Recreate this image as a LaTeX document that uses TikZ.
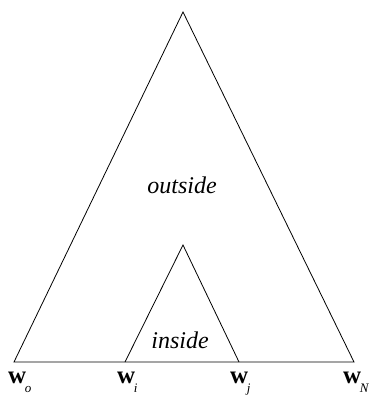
\documentclass[tikz,border=0pt]{standalone}
\usepackage{fontspec}
\setmainfont{Liberation Serif}
\usetikzlibrary{positioning}

% bold w with a lowered italic index
\newcommand{\wsub}[1]{{\bfseries w}\kern-1.5pt\raisebox{-9pt}{\fontsize{13}{15}\selectfont\itshape #1}}

\begin{document}
\begin{tikzpicture}[
    x=1pt, y=-1pt,
    edge/.style={draw, line width=0.8pt},
    region/.style={font=\fontsize{24}{28}\selectfont\itshape, inner sep=0pt},
    word/.style={font=\fontsize{25}{30}\selectfont, inner sep=0pt, anchor=base west}
]
\useasboundingbox (0,0) rectangle (370,399);

% Span corners
\coordinate (top) at (183,12);
\coordinate (w0) at (14,362);
\coordinate (wN) at (354,362);
\coordinate (in_top) at (183,245);
\coordinate (wi) at (125,362);
\coordinate (wj) at (239,362);

% Outer and inner triangles
\draw[edge] (w0) -- (top) -- (wN) -- cycle;
\draw[edge] (wi) -- (in_top) -- (wj);

% Region labels
\node[region] (outside) at (182,185) {outside};
\node[region] (inside) at (180,340) {inside};

% Word labels
\node[word] (lab0) at ([xshift=-6,yshift=-21]w0) {\wsub{o}};
\node[word] (labi) at ([xshift=-8,yshift=-21]wi) {\wsub{i}};
\node[word] (labj) at ([xshift=-9,yshift=-21]wj) {\wsub{j}};
\node[word] (labN) at ([xshift=-11,yshift=-21]wN) {\wsub{N}};

\end{tikzpicture}
\end{document}
